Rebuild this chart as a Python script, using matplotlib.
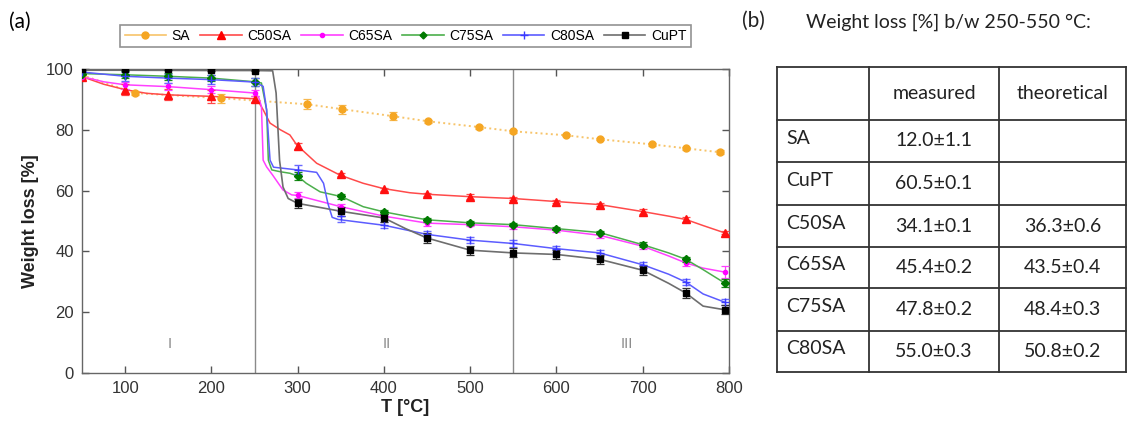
import numpy as np
from matplotlib import pyplot as plt

# ---- data ----
series = ["SA", "C50SA", "C65SA", "C75SA", "C80SA", "CuPT"]

# marker positions (T in degC) and values [%]
T_std = [50, 100, 150, 200, 250, 300, 350, 400, 450, 500, 550, 600, 650, 700, 750, 795]

sa_T = [50, 111, 211, 311, 351, 410, 451, 510, 550, 611, 650, 711, 750, 790]
sa_v = [98.0, 92.1, 90.4, 88.4, 86.8, 84.5, 82.8, 80.9, 79.5, 78.2, 76.9, 75.2, 73.9, 72.6]
sa_e = [0.8, 0.8, 1.5, 1.6, 1.5, 1.3, 0.5, 0.5, 0.5, 0.4, 0.4, 0.4, 0.5, 0.6]

c50_v = [97.5, 93.2, 91.5, 91.0, 90.2, 74.8, 65.3, 60.4, 58.8, 58.0, 57.4, 56.4, 55.4, 53.1, 50.5, 46.1]
c50_e = [1.0, 1.8, 1.8, 2.2, 1.0, 1.0, 0.5, 0.5, 0.5, 0.8, 0.5, 0.5, 0.5, 0.8, 0.8, 0.5]
c65_v = [97.5, 94.6, 94.3, 93.2, 92.1, 58.6, 54.7, 51.6, 49.3, 48.8, 48.1, 47.0, 45.3, 41.7, 36.2, 33.2]
c65_e = [0.8, 1.2, 1.2, 1.2, 1.0, 1.0, 1.0, 0.6, 0.8, 0.6, 0.6, 0.6, 0.8, 0.8, 1.0, 2.0]
c75_v = [98.5, 98.1, 97.6, 97.0, 95.7, 64.8, 58.2, 53.0, 50.4, 49.4, 48.8, 47.5, 46.2, 42.2, 37.4, 29.6]
c75_e = [0.5, 1.2, 1.2, 1.0, 1.2, 1.2, 0.8, 0.6, 0.6, 0.6, 0.6, 0.6, 0.6, 0.8, 0.8, 1.2]
c80_v = [99.0, 97.6, 97.0, 96.5, 95.7, 66.8, 51.5, 48.6, 45.6, 43.7, 42.6, 40.9, 39.5, 35.6, 29.9, 23.3]
c80_e = [0.5, 1.5, 1.5, 1.5, 1.2, 1.5, 1.8, 1.0, 1.0, 1.0, 1.0, 1.0, 1.0, 1.0, 1.0, 1.0]
cupt_v = [100.0, 100.0, 100.0, 99.8, 99.5, 55.8, 53.2, 51.0, 44.4, 40.4, 39.5, 39.0, 37.4, 33.8, 26.3, 20.8]
cupt_e = [0.3, 0.3, 0.3, 0.3, 0.3, 1.5, 1.5, 1.2, 1.5, 1.5, 1.5, 1.5, 1.5, 1.5, 1.5, 1.5]

# continuous TGA traces (knots)
c50_lT = [50, 75, 100, 125, 150, 200, 250, 255, 260, 268, 280, 291, 299, 322, 349, 376, 399, 430,
          450, 500, 550, 600, 650, 700, 730, 750, 770, 795]
c50_lv = [97.5, 95.0, 93.2, 92.0, 91.5, 91.0, 90.2, 89.0, 86.6, 82.2, 80.0, 78.3, 75.0, 69.0, 65.1,
          62.4, 60.7, 59.3, 58.8, 58.0, 57.4, 56.4, 55.4, 53.1, 51.6, 50.5, 48.5, 46.1]
c65_lT = [50, 75, 100, 150, 200, 250, 255, 258, 260, 264, 271, 283, 293, 300, 350, 400, 450, 500,
          550, 600, 650, 700, 730, 750, 770, 795]
c65_lv = [97.5, 95.8, 94.8, 94.2, 93.2, 92.1, 90.5, 87.7, 70.0, 67.8, 65.1, 60.2, 58.6, 58.4, 54.7,
          51.6, 49.3, 48.8, 48.1, 47.0, 45.3, 41.7, 38.5, 36.2, 34.5, 33.2]
c75_lT = [50, 100, 150, 200, 250, 258, 264, 266, 270, 280, 291, 300, 310, 326, 351, 376, 400, 430,
          450, 500, 550, 600, 650, 700, 730, 750, 770, 795]
c75_lv = [98.5, 98.1, 97.6, 97.0, 95.8, 95.4, 86.6, 70.0, 66.8, 66.2, 65.7, 64.8, 62.4, 59.6, 58.0,
          54.7, 53.0, 51.4, 50.4, 49.4, 48.8, 47.5, 46.2, 42.2, 39.5, 37.4, 34.0, 29.6]
c80_lT = [50, 100, 150, 200, 250, 260, 264, 268, 272, 300, 322, 330, 335, 340, 347, 400, 450, 500,
          550, 600, 650, 700, 730, 750, 770, 795]
c80_lv = [99.0, 97.6, 97.0, 96.5, 95.7, 94.3, 86.6, 70.0, 67.7, 66.8, 66.0, 62.4, 55.8, 51.2, 50.5,
          48.6, 45.6, 43.7, 42.6, 40.9, 39.5, 35.6, 32.5, 29.9, 26.0, 23.3]
cupt_lT = [50, 100, 200, 250, 271, 275, 279, 283, 289, 300, 350, 400, 425, 450, 500, 550, 600, 650,
           700, 730, 750, 770, 795]
cupt_lv = [99.6, 99.6, 99.5, 99.5, 99.4, 92.1, 70.0, 61.2, 57.4, 55.8, 53.2, 51.0, 47.5, 44.4, 40.4,
           39.5, 39.0, 37.4, 33.8, 29.5, 26.3, 22.0, 20.8]

region_T = [250, 550]
region_lab = ["I", "II", "III"]
region_lab_T = [152, 403, 681]

tab_cols = ["", "measured", "theoretical"]
tab_rows = ["SA", "CuPT", "C50SA", "C65SA", "C75SA", "C80SA"]
tab_meas = ["12.0±1.1", "60.5±0.1", "34.1±0.1", "45.4±0.2", "47.8±0.2", "55.0±0.3"]
tab_theo = ["", "", "36.3±0.6", "43.5±0.4", "48.4±0.3", "50.8±0.2"]

plt.rcParams['font.family'] = ['Liberation Sans', 'DejaVu Sans']

fig = plt.figure(figsize=(11.27, 4.25), dpi=100)
ax = fig.add_axes([82 / 1127, 1 - 373 / 425, 647 / 1127, 304 / 425])

ebkw = dict(capsize=3, elinewidth=0.9, capthick=0.9, linestyle='none', zorder=4)

# SA: dotted orange
ax.plot(sa_T, sa_v, ':', color='#f7c46a', lw=1.4, zorder=2)
ax.errorbar(sa_T, sa_v, yerr=sa_e, marker='o', ms=5, color='#f5a623', ecolor='#f7b850', **ebkw)
h_sa, = ax.plot([], [], '-', color='#f7c46a', marker='o', ms=5, mfc='#f5a623', mec='#f5a623', lw=1.2)

ax.plot(c50_lT, c50_lv, '-', color='#ff4a4a', lw=1.1, zorder=3)
ax.errorbar(T_std, c50_v, yerr=c50_e, marker='^', ms=5.5, color='#ff1010', ecolor='#ff4a4a', **ebkw)
h50, = ax.plot([], [], '-', color='#ff4a4a', marker='^', ms=5.5, mfc='#ff0000', mec='#ff0000', lw=1.2)

ax.plot(c65_lT, c65_lv, '-', color='#ff40ff', lw=1.1, zorder=3)
ax.errorbar(T_std, c65_v, yerr=c65_e, marker='o', ms=3, color='#ff00ff', ecolor='#ff40ff', **ebkw)
h65, = ax.plot([], [], '-', color='#ff40ff', marker='o', ms=3, mfc='#ff00ff', mec='#ff00ff', lw=1.2)

ax.plot(c75_lT, c75_lv, '-', color='#4caf4c', lw=1.1, zorder=3)
ax.errorbar(T_std, c75_v, yerr=c75_e, marker='D', ms=4.5, color='#007a00', ecolor='#1a8c1a', **ebkw)
h75, = ax.plot([], [], '-', color='#4caf4c', marker='D', ms=3.5, mfc='#007a00', mec='#007a00', lw=1.2)

ax.plot(c80_lT, c80_lv, '-', color='#5c5cff', lw=1.1, zorder=3)
ax.errorbar(T_std, c80_v, yerr=c80_e, marker='+', ms=6, mew=1.0, color='#3a3aff', ecolor='#6a6aff', **ebkw)
h80, = ax.plot([], [], '-', color='#5c5cff', marker='+', ms=6, mec='#3a3aff', lw=1.2)

ax.plot(cupt_lT, cupt_lv, '-', color='#6e6e6e', lw=1.2, zorder=3)
ax.errorbar(T_std, cupt_v, yerr=cupt_e, marker='s', ms=4.5, color='#000000', ecolor='#333333', **ebkw)
hcu, = ax.plot([], [], '-', color='#6e6e6e', marker='s', ms=4, mfc='black', mec='black', lw=1.2)

for t in region_T:
    ax.axvline(t, color='#8a8a8a', lw=1.0, zorder=1)
for lab, t in zip(region_lab, region_lab_T):
    ax.text(t, 9.5, lab, color='#8a8a8a', fontsize=10.5, ha='center', va='center')

ax.set_xlim(50, 800)
ax.set_ylim(0, 100)
ax.set_xticks([100, 200, 300, 400, 500, 600, 700, 800])
ax.set_yticks([0, 20, 40, 60, 80, 100])
ax.tick_params(direction='in', length=5, width=1, colors='#555555', labelcolor='#333333',
               labelsize=12, top=True, right=True, pad=6)
for s in ax.spines.values():
    s.set_color('#666666')
    s.set_linewidth(1.0)
ax.set_xlabel("T [°C]", fontsize=13, fontweight='bold', color='#222222', labelpad=2)
ax.set_ylabel("Weight loss [%]", fontsize=13, fontweight='bold', color='#222222', labelpad=5)

leg = fig.legend([h_sa, h50, h65, h75, h80, hcu], series, loc='center',
                 bbox_to_anchor=((82 + 729) / 2 / 1127, 1 - 36 / 425), ncol=6,
                 fontsize=10, frameon=True, fancybox=False, handlelength=3.0,
                 handletextpad=0.4, columnspacing=0.7, borderpad=0.3, borderaxespad=0)
leg.get_frame().set_edgecolor('#777777')
leg.get_frame().set_linewidth(1.2)

fig.text(9 / 1127, 1 - 22 / 425, "(a)", fontsize=15, family=['Lato', 'DejaVu Sans'],
         va='center', ha='left')

# ---- table (b), drawn in a pixel-coordinate axes ----
tb = fig.add_axes([740 / 1127, 0, 387 / 1127, 1])
tb.set_xlim(740, 1127)
tb.set_ylim(425, 0)
tb.axis('off')
tfont = dict(family=['Lato', 'DejaVu Sans'], color='#222222')
tb.text(753, 21, "(b)", fontsize=15, va='center', ha='center', **tfont)
tb.text(948, 22, "Weight loss [%] b/w 250-550 °C:", fontsize=14, va='center', ha='center', **tfont)

col_x = [777, 869, 999, 1126]
row_y = [67, 120, 162, 205, 247, 288, 331, 372]
for x in col_x:
    tb.plot([x, x], [row_y[0], row_y[-1]], color='#333333', lw=1.3, clip_on=False)
for y in row_y:
    tb.plot([col_x[0], col_x[-1]], [y, y], color='#333333', lw=1.3, clip_on=False)

for j in (1, 2):
    tb.text((col_x[j] + col_x[j + 1]) / 2, (row_y[0] + row_y[1]) / 2, tab_cols[j],
            fontsize=14, ha='center', va='center', **tfont)
for i, (r, m, th) in enumerate(zip(tab_rows, tab_meas, tab_theo)):
    yc = (row_y[i + 1] + row_y[i + 2]) / 2
    tb.text(col_x[0] + 9, yc - 3, r, fontsize=14, ha='left', va='center', **tfont)
    tb.text((col_x[1] + col_x[2]) / 2, yc, m, fontsize=14, ha='center', va='center', **tfont)
    tb.text((col_x[2] + col_x[3]) / 2, yc, th, fontsize=14, ha='center', va='center', **tfont)

fig.savefig("out.png", dpi=100)
